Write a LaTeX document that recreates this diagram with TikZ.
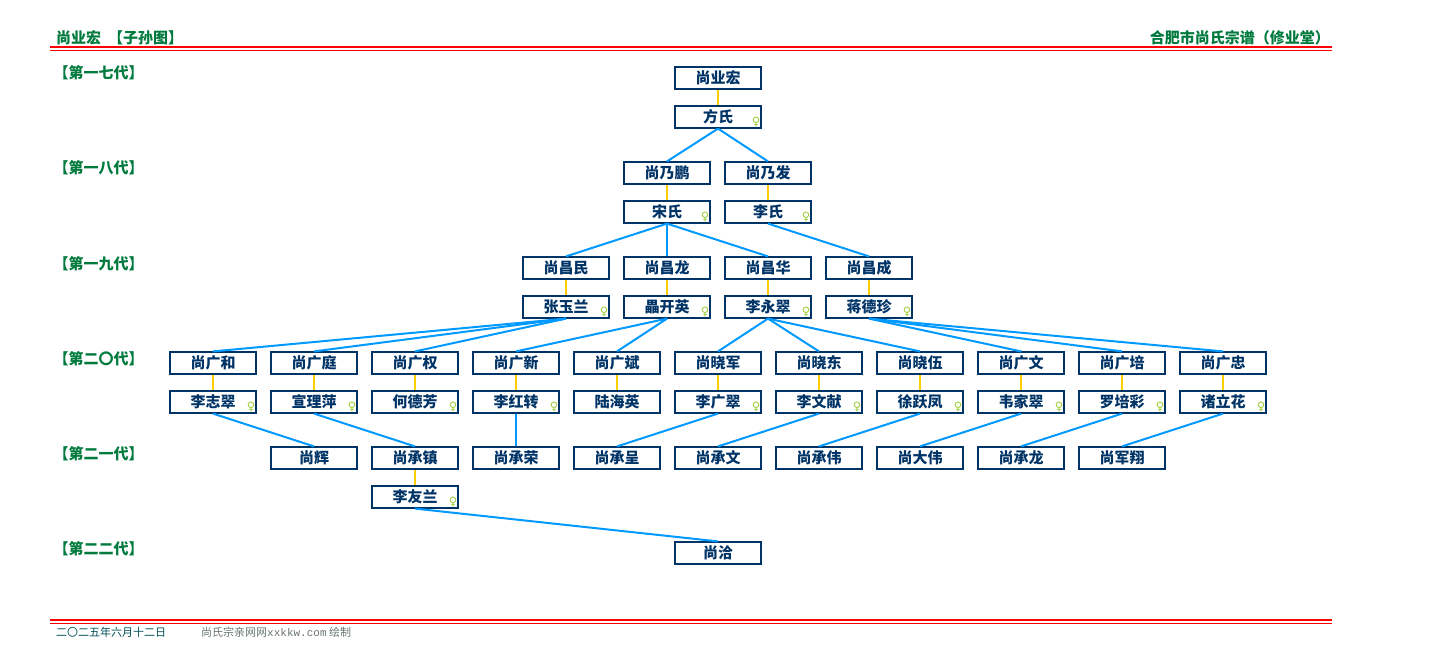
\documentclass[tikz,border=0pt]{standalone}
\usepackage{fontspec}
\usepackage{xcolor}
\usepackage{tikz}
\usetikzlibrary{shapes.geometric, arrows}
\setmainfont{Noto Sans CJK SC}
\newfontfamily\monofont{Liberation Mono}
\newfontfamily\symfont{DejaVu Sans}
\definecolor{navy}{RGB}{0,51,102}
\definecolor{gold}{RGB}{255,204,0}
\definecolor{sky}{RGB}{0,153,255}
\definecolor{pine}{RGB}{0,122,61}
\definecolor{leaf}{RGB}{153,204,51}
\definecolor{ash}{RGB}{105,115,115}

\begin{document}
\begin{tikzpicture}[x=1pt, y=-1pt, node distance=39pt, auto]
    % Define the styles for the nodes
    \tikzstyle{main} = [rectangle, draw=navy, line width=1.2pt, text=navy, font=\fontsize{15}{15}\selectfont\bfseries, minimum width=86pt, minimum height=22pt, inner sep=0pt]
    \tikzstyle{sign} = [anchor=south east, text=leaf, font=\symfont\fontsize{11.5}{11.5}\selectfont, inner sep=1pt]
    \tikzstyle{wife} = [main, label={[sign]south east:♀}]
    \tikzstyle{gen} = [anchor=west, text=pine, font=\fontsize{15}{15}\selectfont\bfseries, inner sep=0pt]
    \tikzstyle{title} = [text=pine, font=\fontsize{15}{15}\selectfont\bfseries, inner sep=0pt]
    \tikzstyle{foot} = [anchor=west, font=\fontsize{11}{11}\selectfont, inner sep=0pt]
    \tikzstyle{rule} = [draw=red, line width=1.4pt]
    \tikzstyle{wed} = [draw=gold, line width=2.2pt]
    \tikzstyle{line} = [draw=sky, line width=2pt]

    \useasboundingbox (0,0) rectangle (1431,670);

    % Header and footer
    \node [title, anchor=west] (head) at (56,38) {尚业宏\hspace{7pt}【子孙图】};
    \node [title, anchor=east] (hall) at (1330,38) {合肥市尚氏宗谱（修业堂）};
    \path [rule] (50,47) -- (1332,47);
    \path [rule] (50,50.5) -- (1332,50.5);
    \path [rule] (50,620) -- (1332,620);
    \path [rule] (50,623.5) -- (1332,623.5);
    \node [foot, text=navy!60!pine] (date) at (56,632) {二〇二五年六月十二日};
    \node [foot, text=ash] (site) at (201,632) {尚氏宗亲网网{\monofont xxkkw.com} 绘制};

    % Generation labels
    \node [gen] (g17) at (53.5,73) {【第一七代】};
    \node [gen] (g18) at (53.5,168) {【第一八代】};
    \node [gen] (g19) at (53.5,264) {【第一九代】};
    \node [gen] (g20) at (53.5,359) {【第二〇代】};
    \node [gen] (g21) at (53.5,454) {【第二一代】};
    \node [gen] (g22) at (53.5,549) {【第二二代】};

    % Generation 17
    \node [main] (yehong) at (718,78) {尚业宏};
    \node [wife, below of=yehong] (fangshi) {方氏};

    % Generation 18
    \node [main] (naipeng) at (667,173) {尚乃鹏};
    \node [main, right of=naipeng, node distance=101pt] (naifa) {尚乃发};
    \node [wife, below of=naipeng] (songshi) {宋氏};
    \node [wife, below of=naifa] (lishi) {李氏};

    % Generation 19
    \node [main] (changmin) at (566,268) {尚昌民};
    \node [main, right of=changmin, node distance=101pt] (changlong) {尚昌龙};
    \node [main, right of=changlong, node distance=101pt] (changhua) {尚昌华};
    \node [main, right of=changhua, node distance=101pt] (changcheng) {尚昌成};
    \node [wife, below of=changmin] (zhangyulan) {张玉兰};
    \node [wife, below of=changlong] (leikaiying) {畾开英};
    \node [wife, below of=changhua] (liyongcui) {李永翠};
    \node [wife, below of=changcheng] (jiangdezhen) {蒋德珍};

    % Generation 20
    \node [main] (guanghe) at (213,363) {尚广和};
    \node [main, right of=guanghe, node distance=101pt] (guangting) {尚广庭};
    \node [main, right of=guangting, node distance=101pt] (guangquan) {尚广权};
    \node [main, right of=guangquan, node distance=101pt] (guangxin) {尚广新};
    \node [main, right of=guangxin, node distance=101pt] (guangbin) {尚广斌};
    \node [main, right of=guangbin, node distance=101pt] (xiaojun) {尚晓军};
    \node [main, right of=xiaojun, node distance=101pt] (xiaodong) {尚晓东};
    \node [main, right of=xiaodong, node distance=101pt] (xiaowu) {尚晓伍};
    \node [main, right of=xiaowu, node distance=101pt] (guangwen) {尚广文};
    \node [main, right of=guangwen, node distance=101pt] (guangpei) {尚广培};
    \node [main, right of=guangpei, node distance=101pt] (guangzhong) {尚广忠};
    \node [wife, below of=guanghe] (lizhicui) {李志翠};
    \node [wife, below of=guangting] (xuanliping) {宣理萍};
    \node [wife, below of=guangquan] (hedefang) {何德芳};
    \node [wife, below of=guangxin] (lihongzhuan) {李红转};
    \node [main, below of=guangbin] (luhaiying) {陆海英};
    \node [wife, below of=xiaojun] (liguangcui) {李广翠};
    \node [wife, below of=xiaodong] (liwenxian) {李文献};
    \node [wife, below of=xiaowu] (xuyuefeng) {徐跃凤};
    \node [wife, below of=guangwen] (weijiacui) {韦家翠};
    \node [wife, below of=guangpei] (luopeicai) {罗培彩};
    \node [wife, below of=guangzhong] (zhulihua) {诸立花};

    % Generation 21
    \node [main] (hui) at (314,458) {尚辉};
    \node [main, right of=hui, node distance=101pt] (chengzhen) {尚承镇};
    \node [main, right of=chengzhen, node distance=101pt] (chengrong) {尚承荣};
    \node [main, right of=chengrong, node distance=101pt] (chengcheng) {尚承呈};
    \node [main, right of=chengcheng, node distance=101pt] (chengwen) {尚承文};
    \node [main, right of=chengwen, node distance=101pt] (chengwei) {尚承伟};
    \node [main, right of=chengwei, node distance=101pt] (dawei) {尚大伟};
    \node [main, right of=dawei, node distance=101pt] (chenglong) {尚承龙};
    \node [main, right of=chenglong, node distance=101pt] (junxiang) {尚军翔};
    \node [wife, below of=chengzhen] (liyoulan) {李友兰};

    % Generation 22
    \node [main] (qia) at (718,553) {尚洽};

    % Connect couples
    \path [wed] (yehong) -- (fangshi);
    \path [wed] (naipeng) -- (songshi);
    \path [wed] (naifa) -- (lishi);
    \path [wed] (changmin) -- (zhangyulan);
    \path [wed] (changlong) -- (leikaiying);
    \path [wed] (changhua) -- (liyongcui);
    \path [wed] (changcheng) -- (jiangdezhen);
    \path [wed] (guanghe) -- (lizhicui);
    \path [wed] (guangting) -- (xuanliping);
    \path [wed] (guangquan) -- (hedefang);
    \path [wed] (guangxin) -- (lihongzhuan);
    \path [wed] (guangbin) -- (luhaiying);
    \path [wed] (xiaojun) -- (liguangcui);
    \path [wed] (xiaodong) -- (liwenxian);
    \path [wed] (xiaowu) -- (xuyuefeng);
    \path [wed] (guangwen) -- (weijiacui);
    \path [wed] (guangpei) -- (luopeicai);
    \path [wed] (guangzhong) -- (zhulihua);
    \path [wed] (chengzhen) -- (liyoulan);

    % Connect mothers with children
    \path [line] (fangshi.south) -- (naipeng.north);
    \path [line] (fangshi.south) -- (naifa.north);
    \path [line] (songshi.south) -- (changmin.north);
    \path [line] (songshi.south) -- (changlong.north);
    \path [line] (songshi.south) -- (changhua.north);
    \path [line] (lishi.south) -- (changcheng.north);
    \path [line] (zhangyulan.south) -- (guanghe.north);
    \path [line] (zhangyulan.south) -- (guangting.north);
    \path [line] (zhangyulan.south) -- (guangquan.north);
    \path [line] (leikaiying.south) -- (guangxin.north);
    \path [line] (leikaiying.south) -- (guangbin.north);
    \path [line] (liyongcui.south) -- (xiaojun.north);
    \path [line] (liyongcui.south) -- (xiaodong.north);
    \path [line] (liyongcui.south) -- (xiaowu.north);
    \path [line] (jiangdezhen.south) -- (guangwen.north);
    \path [line] (jiangdezhen.south) -- (guangpei.north);
    \path [line] (jiangdezhen.south) -- (guangzhong.north);
    \path [line] (lizhicui.south) -- (hui.north);
    \path [line] (xuanliping.south) -- (chengzhen.north);
    \path [line] (lihongzhuan.south) -- (chengrong.north);
    \path [line] (liguangcui.south) -- (chengcheng.north);
    \path [line] (liwenxian.south) -- (chengwen.north);
    \path [line] (xuyuefeng.south) -- (chengwei.north);
    \path [line] (weijiacui.south) -- (dawei.north);
    \path [line] (luopeicai.south) -- (chenglong.north);
    \path [line] (zhulihua.south) -- (junxiang.north);
    \path [line] (liyoulan.south) -- (qia.north);

\end{tikzpicture}
\end{document}
